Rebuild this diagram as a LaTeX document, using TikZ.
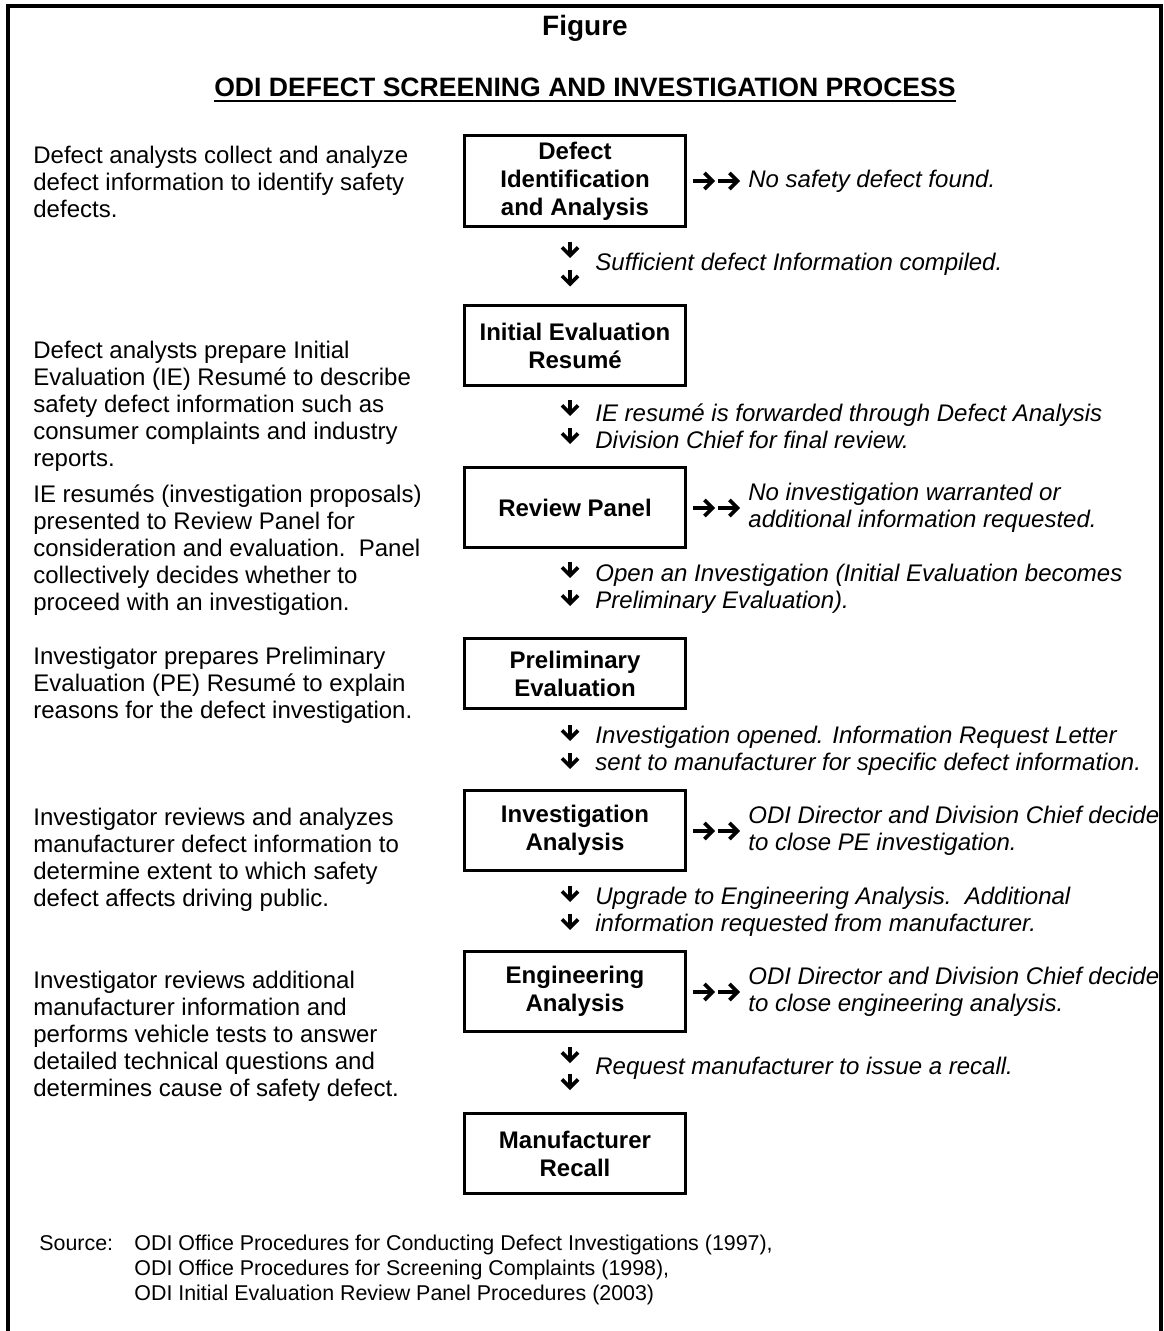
\documentclass[tikz,border=0pt]{standalone}
\usepackage{fontspec}
\setmainfont{Liberation Sans}
\usetikzlibrary{arrows.meta}
\newcommand{\bodysize}{\fontsize{12pt}{13.5pt}\selectfont}

\begin{document}
\begin{tikzpicture}[
        x=0.5pt, y=-0.5pt, % 1 единица = 1 пиксель
        stage/.style = {draw, line width=1.65pt, minimum width=110.5pt, minimum height=40pt, inner sep=3pt, align=center, font=\bfseries\fontsize{12pt}{14pt}\selectfont}, % Блоки процесса
        note/.style = {anchor=north west, inner sep=0pt, align=left, font=\bodysize}, % Пояснения слева
        exit/.style = {anchor=west, inner sep=0pt, align=left, font=\itshape\bodysize}, % Выход из процесса
        pass/.style = {anchor=west, inner sep=0pt, align=left, font=\itshape\bodysize}, % Переход дальше
        dnarr/.style = {line width=1.8pt, -{Straight Barb[length=4pt, width=8pt]}},
        rtarr/.style = {line width=1.8pt, -{Straight Barb[length=4pt, width=8pt]}},
    ]
    \useasboundingbox (0,0) rectangle (1163,1331);
    \draw[line width=2.2pt] (8,1340) -- (8,6) -- (1161,6) -- (1161,1340);

    \node[anchor=base, inner sep=0pt, font=\bfseries\fontsize{14pt}{16pt}\selectfont] (fig) at (585,36) {Figure};
    \node[anchor=base, inner sep=0pt, font=\bfseries\fontsize{13.3pt}{16pt}\selectfont] (ttl) at (585,97) {ODI DEFECT SCREENING AND INVESTIGATION PROCESS};
    \draw[line width=1pt] ([yshift=-1.8pt]ttl.base west) -- ([yshift=-1.8pt]ttl.base east);

    % блоки
    \node[stage] (b1) at (575,181) {Defect\\Identification\\and Analysis};
    \node[stage] (b2) at (575,345.5) {Initial Evaluation\\Resumé};
    \node[stage] (b3) at (575,507.5) {Review Panel};
    \node[stage, minimum height=35pt] (b4) at (575,673.5) {Preliminary\\Evaluation};
    \node[stage] (b5) at (575,830.5) {Investigation\\Analysis};
    \node[stage] (b6) at (575,991.5) {Engineering\\Analysis};
    \node[stage] (b7) at (575,1153.5) {Manufacturer\\Recall};

    % пояснения
    \node[note] (n1) at (33,146) {Defect analysts collect and analyze\\defect information to identify safety\\defects.};
    \node[note] (n2) at (33,341) {Defect analysts prepare Initial\\Evaluation (IE) Resumé to describe\\safety defect information such as\\consumer complaints and industry\\reports.};
    \node[note] (n3) at (33,484) {IE resumés (investigation proposals)\\presented to Review Panel for\\consideration and evaluation.\ \ Panel\\collectively decides whether to\\proceed with an investigation.};
    \node[note] (n4) at (33,647) {Investigator prepares Preliminary\\Evaluation (PE) Resumé to explain\\reasons for the defect investigation.};
    \node[note] (n5) at (33,808) {Investigator reviews and analyzes\\manufacturer defect information to\\determine extent to which safety\\defect affects driving public.};
    \node[note] (n6) at (33,971) {Investigator reviews additional\\manufacturer information and\\performs vehicle tests to answer\\detailed technical questions and\\determines cause of safety defect.};

    % выходы
    \node[exit] (e1) at (748,181) {No safety defect found.};
    \node[exit] (e2) at (748,508) {No investigation warranted or\\additional information requested.};
    \node[exit] (e3) at (748,831) {ODI Director and Division Chief decide\\to close PE investigation.};
    \node[exit] (e4) at (748,992) {ODI Director and Division Chief decide\\to close engineering analysis.};

    % переходы
    \node[pass] (p1) at (595,264) {Sufficient defect Information compiled.};
    \node[pass] (p2) at (595,426) {IE resumé is forwarded through Defect Analysis\\Division Chief for final review.};
    \node[pass] (p3) at (595,588.5) {Open an Investigation (Initial Evaluation becomes\\Preliminary Evaluation).};
    \node[pass] (p4) at (595,751) {Investigation opened. Information Request Letter\\sent to manufacturer for specific defect information.};
    \node[pass] (p5) at (595,911.5) {Upgrade to Engineering Analysis.\ \ Additional\\information requested from manufacturer.};
    \node[pass] (p6) at (595,1068) {Request manufacturer to issue a recall.};

    % стрелки вниз
    \foreach \n/\y in {1/250, 2/278.5, 3/408, 4/436, 5/570, 6/598, 7/733, 8/761, 9/894, 10/922, 11/1055, 12/1082} {
        \coordinate (dt\n) at (570,\y-8);
        \coordinate (db\n) at (570,\y+8);
        \draw[dnarr] (dt\n) -- (db\n);
    }
    % стрелки вправо
    \foreach \n/\y in {1/181, 2/508, 3/831, 4/992} {
        \coordinate (ra\n) at (693,\y);
        \coordinate (rb\n) at (715,\y);
        \coordinate (rc\n) at (718,\y);
        \coordinate (rd\n) at (740,\y);
        \draw[rtarr] (ra\n) -- (rb\n);
        \draw[rtarr] (rc\n) -- (rd\n);
    }

    \node[note, font=\fontsize{10.7pt}{12.5pt}\selectfont] (src) at (39,1235) {Source:};
    \node[note, font=\fontsize{10.7pt}{12.5pt}\selectfont] (srcs) at (134,1235) {ODI Office Procedures for Conducting Defect Investigations (1997),\\ODI Office Procedures for Screening Complaints (1998),\\ODI Initial Evaluation Review Panel Procedures (2003)};
\end{tikzpicture}
\end{document}
